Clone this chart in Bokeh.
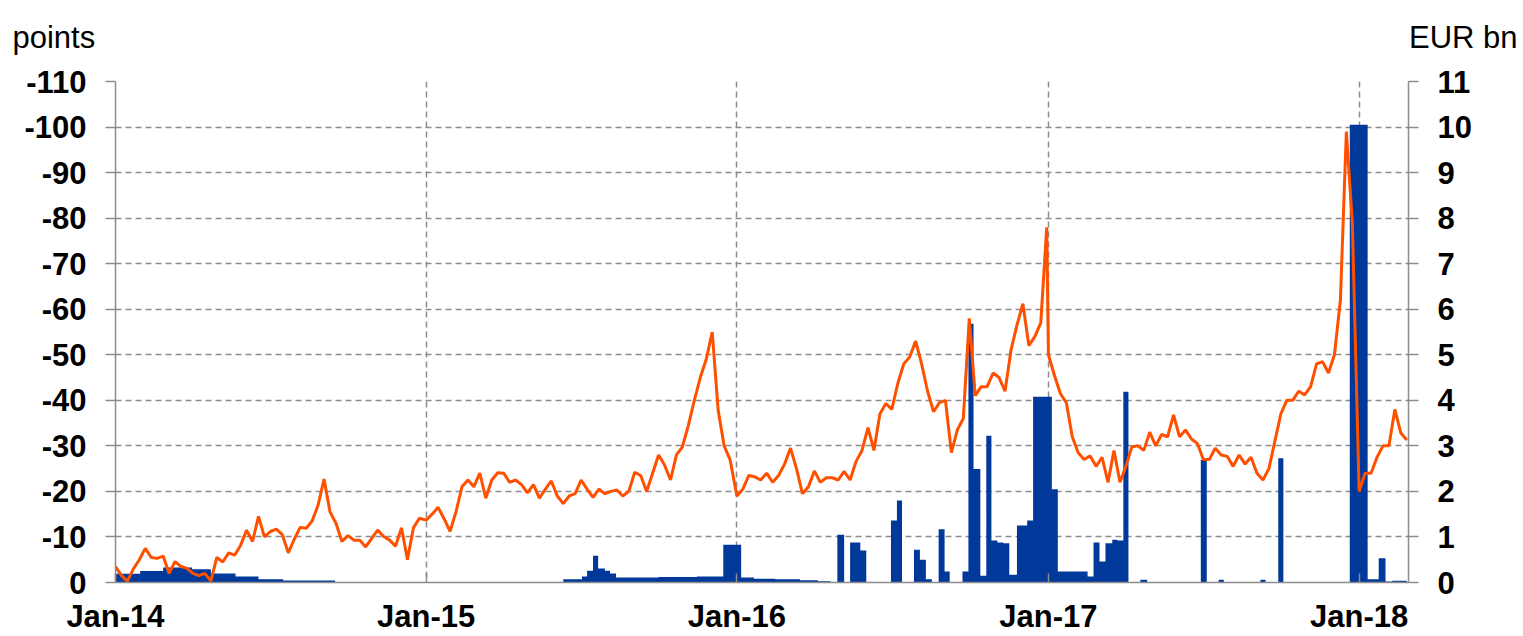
import pandas as pd
from bokeh.plotting import figure
from bokeh.layouts import column
from bokeh.models import (Range1d, LinearAxis, FixedTicker, DatetimeTickFormatter,
                          ColumnDataSource)
from bokeh.core.properties import value
from bokeh.embed import file_html
from bokeh.resources import INLINE

# ---------------- data ----------------
# orange line (points), weekly readings starting on 1 Jan of each year
line_2014 = [-3.5, -1.5, -0.3, -3.0, -5.0, -7.5, -5.5, -5.3, -5.8, -2.0,
             -4.6, -3.5, -3.1, -2.0, -1.5, -2.0, -0.3, -5.5, -4.5, -6.5,
             -6.0, -8.2, -11.5, -9.0, -14.5, -10.0, -11.2, -11.7, -10.5, -6.5,
             -9.5, -12.1, -11.9, -13.5, -17.0, -22.7, -15.5, -13.0, -9.0, -10.3,
             -9.3, -9.3, -7.8, -9.7, -11.5, -10.1, -9.3, -8.0, -12.0, -5.0,
             -12.0, -14.1]
line_2015 = [-13.7, -15.0, -16.5, -14.0, -11.2, -15.5, -21.0, -22.5, -21.0, -24.0,
             -18.5, -22.5, -24.1, -24.0, -22.0, -22.5, -21.5, -19.7, -21.5, -18.5,
             -20.5, -22.3, -19.0, -17.3, -19.0, -19.5, -22.5, -20.5, -18.7, -20.5,
             -19.5, -20.0, -20.3, -19.0, -20.0, -24.2, -23.5, -20.0, -24.0, -28.0,
             -25.8, -22.5, -28.0, -29.8, -34.5, -40.0, -45.0, -49.0, -55.0, -37.8,
             -30.0, -27.0]
line_2016 = [-19.0, -20.5, -23.5, -23.2, -22.5, -24.0, -22.0, -23.5, -26.0, -29.5,
             -25.0, -19.5, -21.0, -24.5, -22.0, -23.0, -23.0, -22.5, -24.4, -22.5,
             -26.6, -29.0, -34.0, -29.0, -37.0, -39.3, -38.0, -43.7, -48.0, -49.5,
             -53.0, -48.0, -42.0, -37.5, -39.5, -40.0, -28.5, -33.5, -36.0, -58.0,
             -41.0, -43.0, -43.0, -46.0, -45.0, -42.0, -51.0, -56.5, -61.2, -52.0,
             -54.0, -57.0, -78.0]
line_2017 = [-50.0, -45.5, -41.5, -39.5, -32.0, -28.5, -27.0, -27.8, -25.5, -27.5,
             -22.0, -29.0, -22.0, -25.5, -29.8, -30.0, -29.0, -33.0, -30.0, -32.5,
             -32.0, -36.8, -32.0, -33.5, -31.5, -30.5, -27.0, -27.0, -29.5, -28.0,
             -27.7, -25.5, -28.0, -26.0, -27.5, -24.0, -22.5, -25.0, -31.0, -37.0,
             -40.0, -40.0, -42.0, -41.2, -43.0, -48.0, -48.5, -46.0, -50.0, -62.0,
             -99.0, -79.0]
line_2018 = [-20.0, -24.0, -24.0, -27.5, -30.0, -30.0, -38.0, -32.8, -31.3]

# blue area (EUR bn), step values starting at each date
blue_dates = [
    "2014-01-01", "2014-01-30", "2014-02-26", "2014-04-01", "2014-04-23", "2014-05-22",
    "2014-06-18", "2014-07-17", "2014-09-16",
    "2015-06-11", "2015-07-03", "2015-07-09", "2015-07-16", "2015-07-22", "2015-07-30",
    "2015-08-05", "2015-08-12", "2015-10-01", "2015-11-15", "2015-12-16",
    "2016-01-06", "2016-01-21", "2016-02-15", "2016-03-15", "2016-04-05", "2016-04-20",
    "2016-04-28", "2016-05-06", "2016-05-13", "2016-05-25", "2016-06-01", "2016-06-30",
    "2016-07-07", "2016-07-13", "2016-07-27", "2016-08-03", "2016-08-10", "2016-08-17",
    "2016-08-25", "2016-09-01", "2016-09-07", "2016-09-22", "2016-09-29", "2016-10-05",
    "2016-10-13", "2016-10-20", "2016-10-26", "2016-11-02", "2016-11-09", "2016-11-16",
    "2016-11-25", "2016-12-07", "2016-12-14",
    "2017-01-05", "2017-01-12", "2017-02-16", "2017-02-23", "2017-03-02", "2017-03-09",
    "2017-03-17", "2017-03-23", "2017-03-30", "2017-04-05", "2017-04-19", "2017-04-27",
    "2017-06-29", "2017-07-06", "2017-07-20", "2017-07-26", "2017-09-07", "2017-09-13",
    "2017-09-28", "2017-10-04", "2017-12-21",
    "2018-01-11", "2018-01-24", "2018-02-01", "2018-02-09", "2018-02-26"]
blue_vals = [
    0.19, 0.25, 0.33, 0.29, 0.20, 0.13, 0.07, 0.045, 0.0,
    0.07, 0.13, 0.26, 0.59, 0.31, 0.26, 0.20, 0.11, 0.12, 0.13, 0.83,
    0.11, 0.08, 0.07, 0.05, 0.03, 0.0,
    1.05, 0.0, 0.88, 0.70, 0.0, 1.36, 1.80, 0.0, 0.72, 0.50, 0.07, 0.0, 1.17, 0.24, 0.0,
    0.24, 5.68, 2.49, 0.15, 3.22, 0.92, 0.88, 0.86, 0.17, 1.25, 1.36, 4.08,
    2.05, 0.24, 0.13, 0.88, 0.46, 0.86, 0.94, 0.92, 4.19, 0.01, 0.06, 0.01, 2.69, 0.01,
    0.06, 0.01, 0.06, 0.01, 2.73, 0.01, 10.05,
    0.07, 0.53, 0.02, 0.04, 0.0]

x_ticks = ["2014-01-01", "2015-01-01", "2016-01-01", "2017-01-01", "2018-01-01"]
left_ticks = [0, -10, -20, -30, -40, -50, -60, -70, -80, -90, -100, -110]
right_ticks = [0, 1, 2, 3, 4, 5, 6, 7, 8, 9, 10, 11]
x_start, x_end = "2014-01-01", "2018-02-28"
left_unit, right_unit = "points", "EUR bn"

# ---------------- build ----------------
line_x, line_y = [], []
for yr, vals in [(2014, line_2014), (2015, line_2015), (2016, line_2016),
                 (2017, line_2017), (2018, line_2018)]:
    line_x += list(pd.date_range(f"{yr}-01-01", periods=len(vals), freq="7D"))
    line_y += vals

line_src = ColumnDataSource(dict(x=line_x, y=line_y))
blue_src = ColumnDataSource(dict(x=list(pd.to_datetime(blue_dates)), y=blue_vals))

def ms(d):
    return pd.Timestamp(d).value // 10**6

FONT = "Liberation Sans"
GRAY = "#8c8c8c"
W = 1523
HEAD_H = 62
BASE = 37  # baseline of the unit labels, from the top of the page

# header strip with the two unit labels
head = figure(width=W, height=HEAD_H, x_range=Range1d(0, W), y_range=Range1d(0, HEAD_H),
              output_backend="svg", toolbar_location=None,
              x_axis_location=None, y_axis_location=None,
              min_border_left=0, min_border_right=0, min_border_top=0, min_border_bottom=0)
head.outline_line_color = None
head.grid.visible = False
head.text(x=[12], y=[HEAD_H - BASE], text=[left_unit], text_font=value(FONT),
          text_font_size="31px", text_color="black", text_align="left",
          text_baseline="alphabetic")
head.text(x=[1517], y=[HEAD_H - BASE], text=[right_unit], text_font=value(FONT),
          text_font_size="31px", text_color="black", text_align="right",
          text_baseline="alphabetic")

p = figure(width=W, height=636 - HEAD_H, x_axis_type="datetime",
           x_range=Range1d(pd.Timestamp(x_start).to_pydatetime(), pd.Timestamp(x_end).to_pydatetime()),
           y_range=Range1d(start=0, end=-110),
           output_backend="svg", toolbar_location=None,
           min_border_left=115, min_border_right=115, min_border_top=81 - HEAD_H,
           min_border_bottom=54)
p.extra_y_ranges = {"bn": Range1d(start=0, end=11)}
p.outline_line_color = None
p.background_fill_color = "white"
p.border_fill_color = "white"

# do not let the layout align the header frame with the chart frame
for f in (head, p):
    if "frame_align" in f.properties():
        f.frame_align = False

p.varea_step(x="x", y1=0, y2="y", step_mode="after", source=blue_src,
             y_range_name="bn", fill_color="#00399A")
p.line(x="x", y="y", source=line_src, line_color="#FF5000", line_width=3)

# axes
xa = p.xaxis[0]
xa.ticker = FixedTicker(ticks=[ms(d) for d in x_ticks])
xa.formatter = DatetimeTickFormatter(years="%b-%y", months="%b-%y", days="%b-%y",
                                     hours="%b-%y", minutes="%b-%y", seconds="%b-%y",
                                     milliseconds="%b-%y", microseconds="%b-%y")
xa.major_tick_in = 9
xa.major_tick_out = 0
xa.minor_tick_line_color = None
xa.major_label_standoff = 16

ya = p.yaxis[0]
ya.ticker = FixedTicker(ticks=left_ticks)
ya.major_label_overrides = {t: str(t) for t in left_ticks}
ya.major_tick_in = 0
ya.major_tick_out = 10
ya.minor_tick_line_color = None
ya.major_label_standoff = 19

ra = LinearAxis(y_range_name="bn", ticker=FixedTicker(ticks=right_ticks))
ra.major_label_overrides = {t: str(t) for t in right_ticks}
ra.major_tick_in = 0
ra.major_tick_out = 10
ra.minor_tick_line_color = None
ra.major_label_standoff = 19
p.add_layout(ra, "right")

for ax in [xa, ya, ra]:
    ax.axis_line_color = GRAY
    ax.axis_line_width = 1.5
    ax.major_tick_line_color = GRAY
    ax.major_tick_line_width = 1.5
    ax.major_label_text_font = FONT
    ax.major_label_text_font_style = "bold"
    ax.major_label_text_font_size = "31px"
    ax.major_label_text_color = "black"

# grids
p.xgrid.ticker = FixedTicker(ticks=[ms(d) for d in x_ticks])
p.ygrid.ticker = FixedTicker(ticks=left_ticks)
for g in [p.xgrid[0], p.ygrid[0]]:
    g.grid_line_color = GRAY
    g.grid_line_width = 1.5
    g.grid_line_dash = "6 4"

layout = column(head, p, spacing=0)
open("out.html", "w").write(file_html(layout, INLINE))
